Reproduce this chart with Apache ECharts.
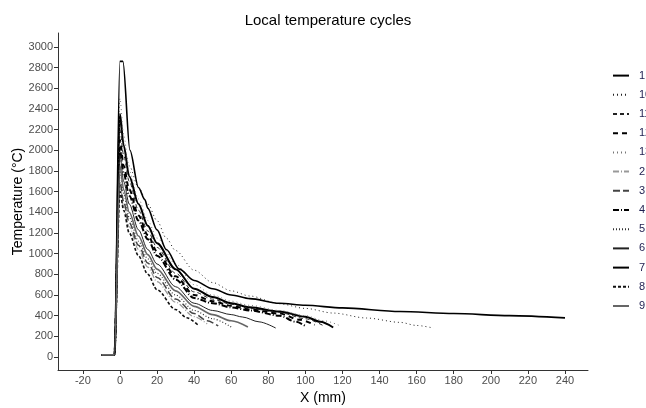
<!DOCTYPE html>
<html>
<head>
<meta charset="UTF-8">
<title>Local temperature cycles</title>
<script src="https://cdn.jsdelivr.net/npm/echarts@6/dist/echarts.min.js"></script>
<style>
  html, body { margin: 0; padding: 0; background: #fff; }
  #chart { width: 646px; height: 408px; }
</style>
</head>
<body>
<div id="chart"></div>
<script>
// tick labels
var xTicks = [-20, 0, 20, 40, 60, 80, 100, 120, 140, 160, 180, 200, 220, 240];
var yTicks = [0, 200, 400, 600, 800, 1000, 1200, 1400, 1600, 1800, 2000, 2200, 2400, 2600, 2800, 3000];

// runs: [X (mm), temperature (°C)]
var run1  = [[-10,20],[-3,20],[0,2350],[2,2050],[5,1750],[10,1480],[15,1270],[20,1100],[30,850],[40,660],[50,580],[60,520],[70,480],[86,440],[100,390],[108,340],[115,285]];
var run10 = [[-10,20],[-3,20],[0,2300],[2,2050],[5,1850],[10,1640],[15,1480],[20,1320],[25,1150],[30,1030],[40,840],[50,720],[60,640],[70,590],[86,515],[100,470],[115,425],[133,377],[151,335],[160,305],[169,280]];
var run11 = [[-10,20],[-3,20],[0,2200],[2,1950],[5,1700],[10,1420],[15,1220],[20,1060],[30,810],[40,630],[50,560],[60,510],[70,470],[86,430],[100,370],[110,300]];
var run12 = [[-10,20],[-3,20],[0,2100],[2,1850],[5,1620],[10,1370],[15,1180],[20,1020],[30,780],[40,600],[50,540],[60,495],[70,460],[86,420],[97,360],[105,310]];
var run13 = [[-10,20],[-3,20],[0,2500],[2,2150],[5,1800],[10,1530],[15,1320],[20,1150],[30,900],[40,700],[50,600],[60,540],[70,500],[86,450],[100,400],[110,350],[119,300]];
var run2  = [[-10,20],[-3,20],[0,1650],[2,1450],[5,1260],[10,1040],[15,870],[20,730],[30,530],[40,390],[47,320]];
var run3  = [[-10,20],[-3,20],[0,1700],[2,1500],[5,1300],[10,1080],[15,910],[20,770],[30,560],[40,420],[47,350],[53,300]];
var run4  = [[-10,20],[-3,20],[0,2000],[2,1780],[5,1560],[10,1320],[15,1140],[20,980],[30,750],[40,570],[50,520],[60,480],[70,450],[86,400],[95,340],[100,300]];
var run5  = [[-10,20],[-3,20],[0,1800],[2,1580],[5,1350],[10,1120],[15,950],[20,810],[30,600],[40,450],[50,370],[60,290]];
var run6  = [[-10,20],[-3,20],[0,1950],[2,1700],[5,1480],[10,1230],[15,1040],[20,900],[30,680],[40,520],[50,450],[60,410],[66,387],[75,340],[84,280]];
var run7  = [[-10,20],[-3,20],[0,2860],[1.6,2860],[5.4,2000],[10,1640],[13.5,1520],[15,1440],[20,1230],[25,1040],[32,850],[40,740],[50,660],[60,600],[70,565],[86,520],[100,500],[120,475],[151,440],[180,420],[210,400],[240,378]];
var run8  = [[-10,20],[-3,20],[0,1600],[2,1420],[5,1200],[10,980],[15,800],[20,650],[30,460],[36,380],[42,310]];
var run9  = [[-10,20],[-3,20],[0,1850],[2,1620],[5,1400],[10,1170],[15,990],[20,850],[30,640],[40,490],[50,410],[60,350],[69,290]];

var runNames = ['1', '10', '11', '12', '13', '2', '3', '4', '5', '6', '7', '8', '9'];
var runData  = [run1, run10, run11, run12, run13, run2, run3, run4, run5, run6, run7, run8, run9];
var runStyle = [
  {color: '#000', width: 2,   type: 'solid'},
  {color: '#222', width: 1,   type: [1, 3]},
  {color: '#222', width: 1,   type: [4, 3]},
  {color: '#000', width: 2,   type: [5, 4]},
  {color: '#777', width: 1,   type: [1, 3]},
  {color: '#999', width: 1.2, type: [6, 2, 1, 2]},
  {color: '#444', width: 1.5, type: [7, 3]},
  {color: '#000', width: 2,   type: [6, 2, 1, 2]},
  {color: '#333', width: 1.2, type: [1, 2]},
  {color: '#222', width: 1,   type: 'solid'},
  {color: '#000', width: 1.6, type: 'solid'},
  {color: '#111', width: 1.6, type: [3, 2]},
  {color: '#666', width: 1.6, type: 'solid'}
];

var chart = echarts.init(document.getElementById('chart'));

var series = [];
for (var i = 0; i < runNames.length; i++) {
  series.push({
    name: runNames[i],
    type: 'line',
    data: runData[i],
    showSymbol: false,
    symbol: 'none',
    smooth: 0.3,
    smoothMonotone: 'x',
    color: runStyle[i].color,
    lineStyle: {color: runStyle[i].color, width: runStyle[i].width, type: runStyle[i].type},
    emphasis: {disabled: true}
  });
}

var axisColor = '#333';
var labelColor = '#4d4d4d';

var option = {
  animation: false,
  backgroundColor: '#fff',
  title: {
    text: 'Local temperature cycles',
    left: 323,
    top: 8,
    textAlign: 'center',
    textStyle: {fontFamily: 'Arial, Liberation Sans', fontSize: 15, fontWeight: 'normal', color: '#000'}
  },
  legend: {
    orient: 'vertical',
    left: 612,
    top: 70,
    padding: 0,
    itemWidth: 16,
    itemHeight: 14,
    itemGap: 8,
    data: runNames,
    itemStyle: {opacity: 0},
    textStyle: {fontFamily: 'Arial, Liberation Sans', fontSize: 11, color: '#1e1e50', padding: [0, 0, 0, 5]}
  },
  grid: {left: 58, right: 58, top: 33, bottom: 38, containLabel: false, outerBoundsMode: 'none'},
  xAxis: {
    type: 'value',
    min: -33.4,
    max: 252.4,
    name: 'X (mm)',
    nameLocation: 'middle',
    nameGap: 21,
    nameTextStyle: {fontFamily: 'Arial, Liberation Sans', fontSize: 14, color: '#000'},
    axisLine: {show: true, onZero: false, lineStyle: {color: axisColor, width: 1}},
    axisTick: {show: true, length: 4, lineStyle: {color: axisColor}, customValues: xTicks},
    axisLabel: {fontFamily: 'Arial, Liberation Sans', fontSize: 11, color: labelColor, margin: 5, customValues: xTicks},
    splitLine: {show: false}
  },
  yAxis: {
    type: 'value',
    min: -126,
    max: 3135,
    name: 'Temperature (°C)',
    nameLocation: 'middle',
    nameGap: 33,
    nameRotate: 90,
    nameMoveOverlap: false,
    nameTextStyle: {fontFamily: 'Arial, Liberation Sans', fontSize: 14, color: '#000'},
    axisLine: {show: true, onZero: false, lineStyle: {color: axisColor, width: 1}},
    axisTick: {show: true, length: 4, lineStyle: {color: axisColor}, customValues: yTicks},
    axisLabel: {
      fontFamily: 'Arial, Liberation Sans', fontSize: 11, color: labelColor, margin: 5, customValues: yTicks,
      formatter: function (v) { return String(v); }
    },
    splitLine: {show: false}
  },
  series: series
};

chart.setOption(option);
</script>
</body>
</html>
